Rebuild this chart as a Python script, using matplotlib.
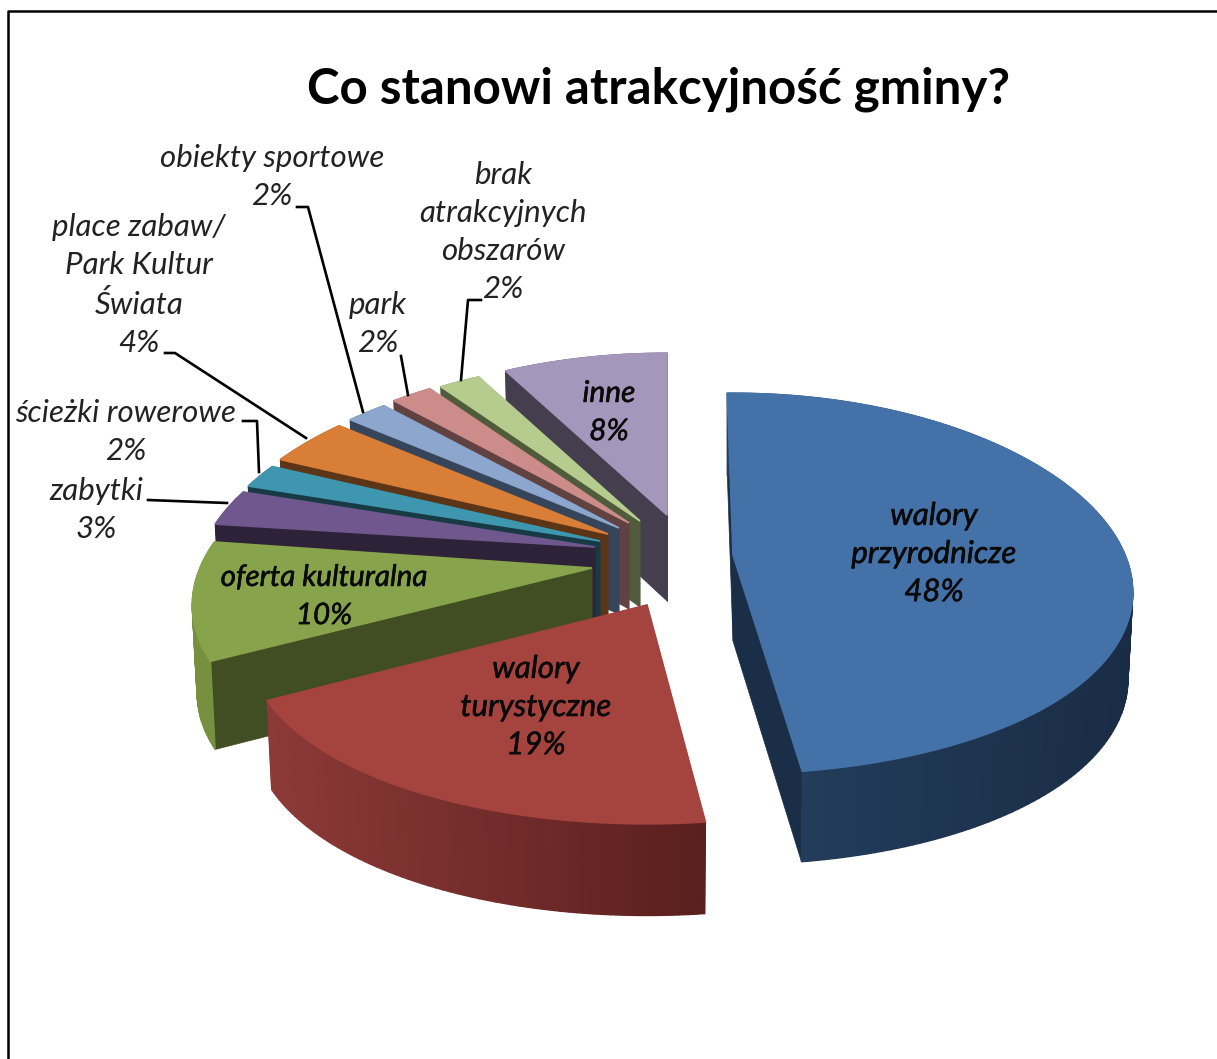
import numpy as np
import matplotlib
matplotlib.use('Agg')
import matplotlib.pyplot as plt
import matplotlib.patheffects as pe

categories = ['walory\nprzyrodnicze', 'walory\nturystyczne', 'oferta kulturalna', 'zabytki',
              'ścieżki rowerowe', 'place zabaw/\nPark Kultur\nŚwiata', 'obiekty sportowe', 'park',
              'brak\natrakcyjnych\nobszarów', 'inne']
shares = [48, 19, 10, 3, 2, 4, 2, 2, 2, 8]

top_colors = ['#4371A8', '#A5433F', '#87A34B', '#70588F', '#3E97AF', '#D97E37', '#8CA6CD', '#CC8C8A', '#B6CC8F', '#A596BC']
wall_colors = ['#1B2E47', '#5A1F1E', '#414D22', '#2D2238', '#183A45', '#5C3416', '#364559', '#5F4241', '#4F5B3B', '#443E4E']
arc_left = ['#24405F', '#8C3A38', '#76903F', '#2D2238', '#183A45', '#5C3416', '#364559', '#5F4241', '#4F5B3B', '#443E4E']
arc_right = ['#1A2C45', '#5A1F1E', '#76903F', '#2D2238', '#183A45', '#5C3416', '#364559', '#5F4241', '#4F5B3B', '#443E4E']

# where each exploded slice has its tip, in pixels, and a small per-slice turn in degrees
tip_x = [733, 647, 592, 595, 600, 608, 619, 629, 640, 667]
tip_y = [555, 605, 568, 547, 541, 534, 528, 523, 521, 515]
turn = [-1.0, 0.3, 1.0, 0, 0, 0, 0, 0, 0, 0]
label_x = [934, 536, 324, 96, 126, 139, 272, 378, 503, 609]
label_y = [554, 707, 596, 510, 432, 285, 177, 324, 232, 412]
label_size = [22.5, 22.5, 21.3, 22.5, 22.5, 22.5, 22.5, 22.5, 22.5, 21.5]

leaders = [
    [(148, 500), (227, 503)],
    [(243, 421), (257, 421), (259, 472)],
    [(165, 353), (175, 353), (306, 438)],
    [(297, 207), (308, 207), (363, 412)],
    [(401, 356), (408, 395)],
    [(481, 300), (468, 300), (461, 380)],
]

RX = 392
RY = 186
DEPTH = 86
PERSP_X = 0.195
PERSP_Y = 0.15

plt.rcParams['font.family'] = ['Lato', 'DejaVu Sans']


def rim(theta, tx, ty):
    x = np.sin(theta)
    y = np.cos(theta)
    return tx + RX * x / (1 + PERSP_X * y), ty - RY * y / (1 + PERSP_Y * y)


def drop(px, py, tx):
    # bottom edge of a wall, pulled in a little for the perspective
    return tx + (px - tx) * 0.988, py + DEPTH * (1 + 0.05 * (py - 560) / 200)


def mix(c1, c2, t):
    a = np.array(matplotlib.colors.to_rgb(c1))
    b = np.array(matplotlib.colors.to_rgb(c2))
    return tuple(a + (b - a) * t)


def draw_slice(ax, a0, a1, tx, ty, top, wall, left, right):
    angles = np.linspace(a0, a1, max(int(np.degrees(a1 - a0) / 1.0), 4))
    px, py = rim(angles, tx, ty)
    bx, by = drop(px, py, tx)
    # the two straight walls
    for k in (0, -1):
        ax.fill([tx, px[k], bx[k], tx], [ty, py[k], by[k], ty + DEPTH], color=wall, lw=0.5)
    # curved outer wall, shaded along x
    span = max(px.max() - px.min(), 1)
    for i in range(len(px) - 1):
        t = ((px[i] + px[i + 1]) / 2 - px.min()) / span
        ax.fill([px[i], px[i + 1], bx[i + 1], bx[i]], [py[i], py[i + 1], by[i + 1], by[i]],
                color=mix(left, right, t), lw=1.0)
    ax.fill(np.r_[tx, px], np.r_[ty, py], color=top, lw=1.2)


fig = plt.figure(figsize=(12.17, 10.59), dpi=100)
ax = fig.add_axes([0, 0, 1, 1])
ax.set_xlim(0, 1217)
ax.set_ylim(1059, 0)
ax.axis('off')

edges = np.r_[0, np.cumsum(shares)] * 3.6
mids = np.radians((edges[:-1] + edges[1:]) / 2)

for seg in leaders:
    ax.plot([p[0] for p in seg], [p[1] for p in seg], color='black', lw=1.9)

# back slices first so the front ones cover them
for i in np.argsort(-np.cos(mids)):
    draw_slice(ax, np.radians(edges[i] + turn[i]), np.radians(edges[i + 1] + turn[i]),
               tip_x[i], tip_y[i], top_colors[i], wall_colors[i], arc_left[i], arc_right[i])

for i, name in enumerate(categories):
    inside = i in (0, 1, 2, 9)
    t = ax.text(label_x[i], label_y[i], f'{name}\n{shares[i]}%', ha='center', va='center',
                fontsize=label_size[i], style='italic',
                color='#0a0a0a' if inside else '#222222', linespacing=1.44)
    if inside:
        t.set_path_effects([pe.withStroke(linewidth=0.4, foreground='#0a0a0a')])

ax.text(658.5, 89, 'Co stanowi atrakcyjność gminy?', ha='center', va='center',
        fontsize=35.5, weight='bold', color='black')

# frame of the original slide
ax.plot([8, 8, 1217], [1059, 11, 11], color='black', lw=1.8)

fig.savefig('out.png', dpi=100)
